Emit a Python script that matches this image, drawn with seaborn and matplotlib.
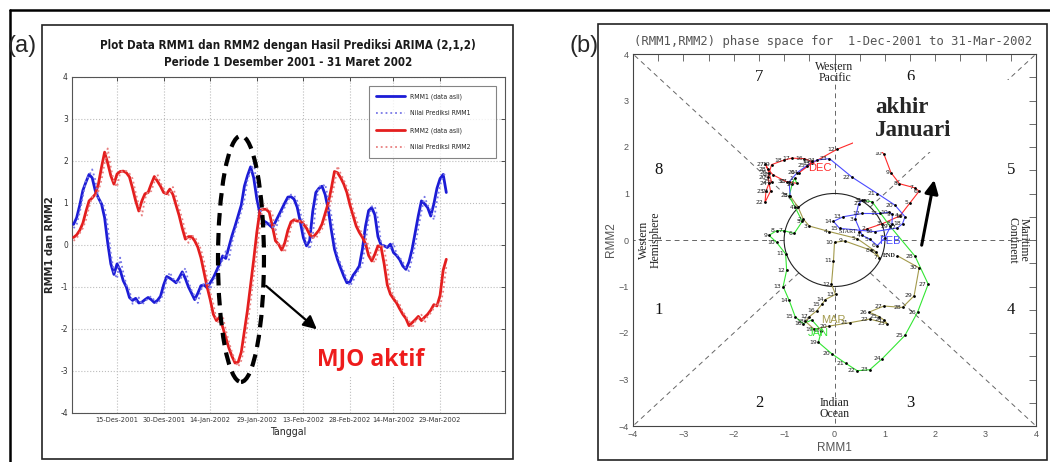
import numpy as np
import pandas as pd
import matplotlib
matplotlib.use("Agg")
import matplotlib.pyplot as plt
from matplotlib.patches import Ellipse, Circle, Rectangle
from matplotlib.lines import Line2D
from matplotlib import font_manager
import seaborn as sns

# ---------------- data ----------------
start_date = "2001-12-01"
end_date = "2002-03-31"

rmm1_actual = [0.49, 0.65, 0.95, 1.30, 1.50, 1.68, 1.60, 1.29, 1.12, 0.98,
               0.65, 0.05, -0.45, -0.70, -0.45, -0.60, -0.85, -1.00, -1.25, -1.32,
               -1.27, -1.38, -1.36, -1.30, -1.25, -1.30, -1.37, -1.32, -1.22, -0.95,
               -0.75, -0.79, -0.84, -0.90, -0.78, -0.64, -0.80, -1.00, -1.15, -1.30,
               -1.15, -0.97, -0.95, -1.02, -0.90, -0.78, -0.62, -0.45, -0.26, -0.32,
               -0.05, 0.22, 0.45, 0.70, 0.95, 1.40, 1.65, 1.86, 1.60, 1.10,
               0.75, 0.58, 0.54, 0.48, 0.41, 0.55, 0.70, 0.85, 1.00, 1.14,
               1.15, 1.09, 0.90, 0.55, 0.17, -0.02, 0.10, 0.80, 1.25, 1.35,
               1.40, 1.20, 0.85, 0.35, -0.10, -0.35, -0.55, -0.74, -0.90, -0.88,
               -0.72, -0.62, -0.50, -0.10, 0.45, 0.82, 0.89, 0.72, 0.20, 0.00,
               -0.02, -0.06, 0.02, -0.18, -0.25, -0.35, -0.50, -0.58, -0.40, -0.10,
               0.30, 0.70, 1.05, 0.98, 0.89, 0.69, 0.98, 1.35, 1.58, 1.68,
               1.25]

rmm1_pred = [0.40, 0.49, 0.78, 1.15, 1.55, 1.65, 1.80, 1.55, 1.10, 1.00,
             0.90, 0.45, -0.20, -0.65, -0.80, -0.30, -0.65, -0.95, -1.08, -1.40,
             -1.35, -1.25, -1.42, -1.35, -1.27, -1.22, -1.32, -1.40, -1.30, -1.15,
             -0.82, -0.65, -0.80, -0.86, -0.93, -0.70, -0.55, -0.88, -1.08, -1.22,
             -1.38, -1.08, -0.90, -0.92, -1.06, -0.85, -0.72, -0.55, -0.35, -0.15,
             -0.35, 0.05, 0.35, 0.55, 0.80, 1.08, 1.55, 1.75, 1.95, 1.45,
             0.90, 0.60, 0.48, 0.52, 0.45, 0.35, 0.60, 0.75, 0.90, 1.05,
             1.20, 1.18, 1.05, 0.80, 0.40, 0.05, -0.10, 0.20, 0.95, 1.40,
             1.38, 1.45, 1.10, 0.70, 0.20, -0.25, -0.45, -0.62, -0.82, -0.98,
             -0.86, -0.68, -0.58, -0.45, 0.05, 0.62, 0.92, 0.92, 0.62, 0.05,
             -0.05, -0.03, -0.08, 0.05, -0.22, -0.30, -0.40, -0.55, -0.62, -0.32,
             0.00, 0.40, 0.80, 1.15, 0.95, 0.85, 0.60, 1.05, 1.42, 1.65,
             1.72]

rmm2_actual = [0.18, 0.24, 0.35, 0.52, 0.80, 1.05, 1.12, 1.21, 1.45, 1.85,
               2.21, 1.95, 1.65, 1.45, 1.69, 1.75, 1.76, 1.72, 1.62, 1.35,
               1.05, 0.81, 1.05, 1.22, 1.25, 1.45, 1.63, 1.52, 1.40, 1.25,
               1.22, 1.33, 1.20, 0.95, 0.70, 0.40, 0.14, 0.20, 0.20, 0.10,
               -0.05, -0.30, -0.65, -1.00, -1.30, -1.65, -1.80, -1.72, -1.95, -2.20,
               -2.45, -2.65, -2.81, -2.79, -2.55, -2.05, -1.55, -0.95, -0.35, 0.30,
               0.82, 0.85, 0.85, 0.78, 0.45, 0.10, 0.02, -0.12, 0.05, 0.35,
               0.55, 0.60, 0.57, 0.57, 0.50, 0.40, 0.25, 0.18, 0.26, 0.35,
               0.50, 0.75, 1.00, 1.35, 1.75, 1.72, 1.60, 1.45, 1.25, 0.95,
               0.70, 0.45, 0.30, 0.18, 0.03, -0.25, -0.38, -0.22, -0.02, -0.05,
               -0.45, -0.95, -1.17, -1.28, -1.38, -1.52, -1.65, -1.75, -1.92, -1.85,
               -1.78, -1.70, -1.80, -1.72, -1.65, -1.55, -1.42, -1.45, -1.20, -0.60,
               -0.34]

rmm2_pred = [0.10, 0.16, 0.28, 0.40, 0.60, 0.90, 1.15, 1.15, 1.28, 1.55,
             1.95, 2.30, 1.85, 1.50, 1.38, 1.72, 1.78, 1.76, 1.70, 1.58,
             1.25, 0.95, 0.70, 1.10, 1.28, 1.28, 1.50, 1.68, 1.48, 1.35,
             1.18, 1.20, 1.38, 1.15, 0.88, 0.62, 0.32, 0.05, 0.22, 0.20,
             0.06, -0.10, -0.38, -0.78, -1.12, -1.40, -1.78, -1.88, -1.68, -2.02,
             -2.30, -2.55, -2.75, -2.90, -2.75, -2.45, -1.90, -1.35, -0.75, -0.15,
             0.45, 0.95, 0.88, 0.85, 0.75, 0.35, 0.00, -0.02, -0.18, 0.10,
             0.42, 0.60, 0.62, 0.55, 0.57, 0.48, 0.36, 0.20, 0.15, 0.28,
             0.38, 0.55, 0.82, 1.08, 1.45, 1.88, 1.70, 1.55, 1.38, 1.18,
             0.85, 0.62, 0.40, 0.25, 0.15, -0.02, -0.32, -0.42, -0.18, 0.02,
             -0.08, -0.52, -1.05, -1.22, -1.32, -1.42, -1.58, -1.70, -1.80, -1.98,
             -1.82, -1.75, -1.66, -1.85, -1.70, -1.62, -1.50, -1.38, -1.48, -1.10,
             -0.52]

series_labels = ["RMM1 (data asli)", "Nilai Prediksi RMM1",
                 "RMM2 (data asli)", "Nilai Prediksi RMM2"]
xtick_dates = ["2001-12-15", "2001-12-30", "2002-01-14", "2002-01-29",
               "2002-02-13", "2002-02-28", "2002-03-14", "2002-03-29"]
xtick_labels = ["15-Des-2001", "30-Des-2001", "14-Jan-2002", "29-Jan-2002",
                "13-Feb-2002", "28-Feb-2002", "14-Mar-2002", "29-Mar-2002"]
ytick_values = [-4, -3, -2, -1, 0, 1, 2, 3, 4]

month_numbers = [12, 1, 2, 3]
month_names = ["DEC", "JAN", "FEB", "MAR"]
month_colors = ["#ff2a2a", "#33e633", "#4a4aff", "#a39a4c"]

phase_labels = ["1", "2", "3", "4", "5", "6", "7", "8"]
phase_pos = [(-3.5, -1.5), (-1.5, -3.5), (1.5, -3.5), (3.5, -1.5),
             (3.5, 1.5), (1.5, 3.5), (-1.5, 3.5), (-3.5, 1.5)]

# ---------------- style ----------------
sns.set_theme(style="white")
plt.rcParams["font.family"] = ["Liberation Sans", "DejaVu Sans"]

_names = {f.name for f in font_manager.fontManager.ttflist}
_cond = [f for f in font_manager.fontManager.ttflist
         if f.name == "DejaVu Sans" and "ondensed" in f.fname]
if "Liberation Sans Narrow" in _names:
    narrow = dict(family=["Liberation Sans Narrow"], stretch="normal")
elif _cond:
    narrow = dict(family=["DejaVu Sans"], stretch="condensed")
else:
    narrow = dict(family=["Liberation Sans"], stretch="normal")

W, H = 1050, 462
fig = plt.figure(figsize=(W / 100, H / 100), dpi=100)
fig.patch.set_facecolor("white")
renderer = fig.canvas.get_renderer()


def fx(px):
    return px / W


def fy(py):
    return 1 - py / H


def fit_width(text_obj, target_px):
    w = text_obj.get_window_extent(renderer).width
    if w > 0:
        text_obj.set_fontsize(text_obj.get_fontsize() * target_px / w)


# frames
fig.add_artist(Line2D([fx(10), fx(1050)], [fy(10), fy(10)], color="black", lw=1.8))
fig.add_artist(Line2D([fx(10), fx(10)], [fy(10), fy(462)], color="black", lw=1.8))
fig.add_artist(Rectangle((fx(42), fy(459)), fx(513) - fx(42), fy(25) - fy(459),
                         fill=False, ec="#222222", lw=1.2, transform=fig.transFigure))
fig.add_artist(Rectangle((fx(598), fy(460)), fx(1047) - fx(598), fy(24) - fy(460),
                         fill=False, ec="#222222", lw=1.2, transform=fig.transFigure))

fig.text(fx(22), fy(46), "(a)", fontsize=17, ha="center", va="center")
fig.text(fx(584), fy(46), "(b)", fontsize=17, ha="center", va="center")

# ================= panel (a) =================
axa = fig.add_axes([fx(72), fy(413), fx(505) - fx(72), fy(77) - fy(413)])
dates = pd.date_range(start_date, end_date, freq="D")
df = pd.DataFrame({"Tanggal": dates,
                   series_labels[0]: rmm1_actual, series_labels[1]: rmm1_pred,
                   series_labels[2]: rmm2_actual, series_labels[3]: rmm2_pred})

styles = [("#1c1cd6", "-", 2.0), ("#7878e6", ":", 1.3),
          ("#e41e1e", "-", 2.0), ("#e88080", ":", 1.3)]
for name, (c, ls, lw) in zip(series_labels, styles):
    sns.lineplot(data=df, x="Tanggal", y=name, ax=axa, color=c, lw=lw,
                 linestyle=ls, label=name, zorder=3 if ls == "-" else 4)

axa.set_xlim(dates[0] - pd.Timedelta(days=0.5), dates[0] + pd.Timedelta(days=138.9))
axa.set_ylim(-4, 4)
axa.set_xticks(pd.to_datetime(xtick_dates))
xtl = axa.set_xticklabels(xtick_labels, fontsize=6, color="#222222", **narrow)
axa.set_yticks(ytick_values)
axa.set_yticklabels([str(v) for v in ytick_values], fontsize=6, color="#222222",
                    **narrow)
axa.tick_params(direction="in", length=3, width=0.6, pad=3, colors="#333333",
                top=True, right=True)
axa.grid(True, linestyle=":", color="#bdbdbd", lw=0.8)
for s in axa.spines.values():
    s.set_color("#555555")
    s.set_linewidth(0.8)
xl = axa.set_xlabel("Tanggal", fontsize=9, labelpad=3, **narrow)
yl = axa.set_ylabel("RMM1 dan RMM2", fontsize=8, fontweight="bold", labelpad=4,
                    **narrow)

# scale the narrow MATLAB-like texts to the widths seen in the reference
fit_width(xtl[0], 43)
for t in xtl[1:]:
    t.set_fontsize(xtl[0].get_fontsize())
fit_width(xl, 36)

leg = axa.legend(loc="upper left", bbox_to_anchor=(0.677, 0.732, 0.311, 0.253),
                 mode="expand", handlelength=4.2, handletextpad=0.6,
                 labelspacing=1.55, borderpad=1.1,
                 frameon=True, fancybox=False, edgecolor="#666666",
                 prop=font_manager.FontProperties(size=5, **narrow))
leg.get_frame().set_linewidth(0.8)
lt = leg.get_texts()
fit_width(lt[1], 62)
for t in lt:
    t.set_fontsize(lt[1].get_fontsize())

t1 = fig.text(fx(288), fy(45),
              "Plot Data RMM1 dan RMM2 dengan Hasil Prediksi ARIMA (2,1,2)",
              fontsize=10, fontweight="bold", ha="center", va="center",
              color="#1a1a1a", **narrow)
fit_width(t1, 372)
fig.text(fx(288), fy(63), "Periode 1 Desember 2001 - 31 Maret 2002",
         fontsize=t1.get_fontsize(), fontweight="bold", ha="center", va="center",
         color="#1a1a1a", **narrow)

# annotations on panel (a)
d0 = dates[0]
ell = Ellipse((matplotlib.dates.date2num(d0 + pd.Timedelta(days=53.9)), -0.33),
              width=14.8, height=5.86, fill=False, ec="black", lw=3,
              linestyle=(0, (3, 1.8)), zorder=6, clip_on=False)
axa.add_patch(ell)
axa.annotate("", xy=(d0 + pd.Timedelta(days=79), -2.05),
             xytext=(d0 + pd.Timedelta(days=61.3), -0.93),
             arrowprops=dict(arrowstyle="-|>", lw=1.6, color="black", mutation_scale=20),
             zorder=7)
axa.text(d0 + pd.Timedelta(days=95.5), -2.72, "MJO aktif", color="#ee1c1c",
         fontsize=16.5, fontweight="bold", family=["Open Sans", "DejaVu Sans"],
         ha="center", va="center", zorder=7,
         bbox=dict(boxstyle="square,pad=0.25", fc="white", ec="none"))

# ================= panel (b) =================
axb = fig.add_axes([fx(633), fy(426), fx(1036) - fx(633), fy(54) - fy(426)])
axb.set_xlim(-4, 4)
axb.set_ylim(-4, 4)

guide = dict(color="#666666", lw=0.7, linestyle=(0, (5, 4)), zorder=1)
r = 1 / np.sqrt(2)
for sx in (-1, 1):
    for sy in (-1, 1):
        axb.plot([sx * r, sx * 4], [sy * r, sy * 4], **guide)
    axb.plot([sx * 1, sx * 4], [0, 0], **guide)
    axb.plot([0, 0], [sx * 1, sx * 4], **guide)
axb.add_patch(Circle((0, 0), 1, fill=False, ec="#222222", lw=0.8, zorder=2))

pdf = pd.DataFrame({"RMM1": rmm1_actual, "RMM2": rmm2_actual, "date": dates})
for k, (mn, mc) in enumerate(zip(month_numbers, month_colors)):
    idx = np.where(dates.month == mn)[0]
    if k > 0:
        idx = np.concatenate([[idx[0] - 1], idx])
    sub = pdf.iloc[idx]
    sns.lineplot(data=sub, x="RMM1", y="RMM2", sort=False, estimator=None,
                 color=mc, lw=0.8, ax=axb, zorder=3)
sns.scatterplot(data=pdf, x="RMM1", y="RMM2", color="black", s=4, linewidth=0,
                ax=axb, zorder=5)

n = len(pdf)
for i in range(n):
    x, y = pdf["RMM1"].iloc[i], pdf["RMM2"].iloc[i]
    if i == 0:
        lab, fam, fw = "START", ["Liberation Serif"], "normal"
    elif i == n - 1:
        lab, fam, fw = "END", ["Liberation Serif"], "bold"
    else:
        lab, fam, fw = str(dates[i].day), ["DejaVu Sans"], "normal"
    axb.annotate(lab, (x, y), xytext=(-1.2, 0), textcoords="offset points",
                 ha="right", va="center", fontsize=4.4, color="#222222",
                 family=fam, fontweight=fw, zorder=6)

for mn, mname, mc in zip(month_numbers, month_names, month_colors):
    i = np.where((dates.month == mn) & (dates.day == 16))[0][0]
    axb.annotate(mname, (pdf["RMM1"].iloc[i], pdf["RMM2"].iloc[i]),
                 xytext=(3, -3), textcoords="offset points", ha="left", va="top",
                 fontsize=8, color=mc, zorder=6)

serif = ["Liberation Serif", "DejaVu Serif"]
for lab, (px, py) in zip(phase_labels, phase_pos):
    axb.text(px, py, lab, fontsize=12, family=serif, ha="center", va="center",
             color="#111111", zorder=4)
axb.text(0, 3.6, "Western\nPacific", fontsize=8.5, family=serif, ha="center",
         va="center", linespacing=0.95, color="#222222")
axb.text(0, -3.62, "Indian\nOcean", fontsize=8.5, family=serif, ha="center",
         va="center", linespacing=0.95, color="#222222")
axb.text(-3.66, 0, "Western\nHemisphere", fontsize=8.5, family=serif, ha="center",
         va="center", rotation=90, linespacing=0.95, color="#222222")
axb.text(3.64, 0, "Maritime\nContinent", fontsize=8.5, family=serif, ha="center",
         va="center", rotation=-90, linespacing=0.95, color="#222222")

axb.add_patch(Rectangle((0.37, 1.89), 3.27, 1.55, fc="white", ec="none", zorder=8))
axb.text(0.8, 2.6, "akhir\nJanuari", fontsize=16.5, fontweight="bold", family=serif,
         ha="left", va="center", linespacing=1.1, zorder=9)
axb.annotate("", xy=(1.99, 1.35), xytext=(1.72, -0.17),
             arrowprops=dict(arrowstyle="-|>", lw=2.2, color="black", mutation_scale=20),
             zorder=9)

axb.set_xticks(range(-4, 5))
axb.set_yticks(range(-4, 5))
axb.set_xticks(np.arange(-4, 4.01, 0.5), minor=True)
axb.set_yticks(np.arange(-4, 4.01, 0.5), minor=True)
axb.tick_params(which="both", direction="in", length=5, width=0.6, colors="#555555",
                top=True, right=True, labelsize=6.5, pad=3)
for s in axb.spines.values():
    s.set_color("#444444")
    s.set_linewidth(0.8)
axb.set_xlabel("RMM1", fontsize=8.5, color="#555555", labelpad=2)
axb.set_ylabel("RMM2", fontsize=8.5, color="#555555", labelpad=1)
fig.text(fx(833), fy(42), "(RMM1,RMM2) phase space for  1-Dec-2001 to 31-Mar-2002",
         fontsize=8.8, family=["DejaVu Sans Mono"], color="#555555",
         ha="center", va="center")

fig.savefig("out.png", dpi=100, facecolor="white")
